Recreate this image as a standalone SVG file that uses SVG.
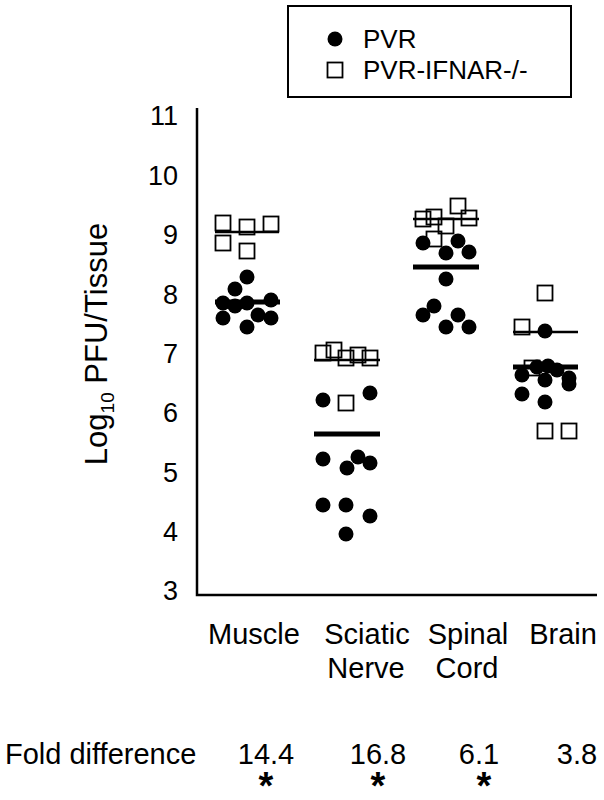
<svg xmlns="http://www.w3.org/2000/svg" width="604" height="800" viewBox="0 0 604 800">
<style>
text{font-family:"Liberation Sans",Arial,sans-serif;fill:#000}
.t{font-size:27px;text-anchor:end}
.c{font-size:29px;text-anchor:middle}
.sq{fill:none;stroke:#000;stroke-width:1.8}
.d{fill:#000}
.m{stroke:#000;stroke-width:5}
.m2{stroke:#000;stroke-width:2.5}
.ax{stroke:#000;stroke-width:2.5;fill:none}
.st{font-size:38px;font-weight:bold;text-anchor:middle}
</style>
<defs>
<rect id="s" class="sq" x="-7.5" y="-7.5" width="15" height="15"/>
<circle id="p" class="d" r="7.5"/>
</defs>
<rect id="legend" x="288" y="6" width="283" height="91" fill="#fff" stroke="#000" stroke-width="2"/>
<use href="#p" x="335" y="39"/>
<text x="363" y="48" font-size="26">PVR</text>
<use href="#s" x="335" y="70"/>
<text x="363" y="79" font-size="26">PVR-IFNAR-/-</text>
<g id="axes">
<path class="ax" d="M197,108 V595 H597"/>
<text class="t" x="178" y="125">11</text>
<text class="t" x="178" y="185">10</text>
<text class="t" x="178" y="244">9</text>
<text class="t" x="178" y="304">8</text>
<text class="t" x="178" y="363">7</text>
<text class="t" x="178" y="422">6</text>
<text class="t" x="178" y="482">5</text>
<text class="t" x="178" y="541">4</text>
<text class="t" x="178" y="600">3</text>
<text transform="translate(107,344) rotate(-90)" font-size="31" text-anchor="middle">Log<tspan font-size="19" dy="7">10</tspan><tspan dy="-7"> PFU/Tissue</tspan></text>
</g>
<g id="muscle">
<use href="#s" x="223" y="223"/><use href="#s" x="247" y="227"/><use href="#s" x="271" y="224"/><use href="#s" x="223" y="243"/><use href="#s" x="247" y="251"/>
<line class="m2" x1="215" y1="232" x2="279" y2="232"/>
<use href="#p" x="247" y="277"/><use href="#p" x="235" y="289"/><use href="#p" x="223" y="303"/><use href="#p" x="235" y="306"/><use href="#p" x="247" y="303"/><use href="#p" x="271" y="300"/><use href="#p" x="223" y="318"/><use href="#p" x="258" y="315"/><use href="#p" x="271" y="318"/><use href="#p" x="247" y="327"/>
<line class="m" x1="215" y1="302" x2="280" y2="302"/>
</g>
<g id="sciatic">
<use href="#s" x="323" y="353"/><use href="#s" x="334" y="350"/><use href="#s" x="346" y="358"/><use href="#s" x="358" y="355"/><use href="#s" x="370" y="358"/>
<line class="m2" x1="314" y1="360" x2="380" y2="360"/>
<use href="#s" x="346" y="403"/>
<use href="#p" x="323" y="400"/><use href="#p" x="370" y="393"/>
<line class="m" x1="314" y1="434" x2="380" y2="434"/>
<use href="#p" x="323" y="459"/><use href="#p" x="358" y="457"/><use href="#p" x="347" y="468"/><use href="#p" x="370" y="463"/>
<use href="#p" x="323" y="505"/><use href="#p" x="346" y="505"/><use href="#p" x="370" y="516"/><use href="#p" x="346" y="534"/>
</g>
<g id="spinal">
<use href="#s" x="423" y="219"/><use href="#s" x="434" y="217"/><use href="#s" x="458" y="206"/><use href="#s" x="469" y="218"/><use href="#s" x="446" y="226"/><use href="#s" x="434" y="239"/>
<line class="m2" x1="413" y1="219" x2="479" y2="219"/>
<use href="#p" x="423" y="243"/><use href="#p" x="458" y="241"/><use href="#p" x="446" y="253"/><use href="#p" x="469" y="252"/>
<line class="m" x1="413" y1="267" x2="479" y2="267"/>
<use href="#p" x="446" y="279"/><use href="#p" x="434" y="306"/><use href="#p" x="423" y="315"/><use href="#p" x="458" y="315"/><use href="#p" x="446" y="327"/><use href="#p" x="469" y="327"/>
</g>
<g id="brain">
<use href="#s" x="545" y="293"/><use href="#s" x="522" y="327"/>
<line class="m2" x1="513" y1="332" x2="578" y2="332"/>
<use href="#p" x="545" y="331"/>
<use href="#s" x="532" y="368"/>
<use href="#p" x="537" y="367"/><use href="#p" x="548" y="366"/><use href="#p" x="557" y="370"/><use href="#p" x="522" y="375"/><use href="#p" x="545" y="380"/><use href="#p" x="569" y="378"/><use href="#p" x="569" y="384"/><use href="#p" x="522" y="394"/><use href="#p" x="545" y="402"/>
<line class="m" x1="513" y1="367" x2="578" y2="367"/>
<use href="#s" x="545" y="431"/><use href="#s" x="569" y="431"/>
</g>
<g id="labels">
<text class="c" x="254" y="644">Muscle</text>
<text class="c" x="367" y="644">Sciatic</text>
<text class="c" x="366" y="678">Nerve</text>
<text class="c" x="468" y="644">Spinal</text>
<text class="c" x="467" y="678">Cord</text>
<text class="c" x="563" y="644">Brain</text>
<text x="5" y="764" font-size="29">Fold difference</text>
<text class="c" x="266" y="764">14.4</text>
<text class="c" x="378" y="764">16.8</text>
<text class="c" x="479" y="764">6.1</text>
<text class="c" x="577" y="764">3.8</text>
<text class="st" x="266" y="799">*</text>
<text class="st" x="378" y="799">*</text>
<text class="st" x="484" y="799">*</text>
</g>
</svg>
